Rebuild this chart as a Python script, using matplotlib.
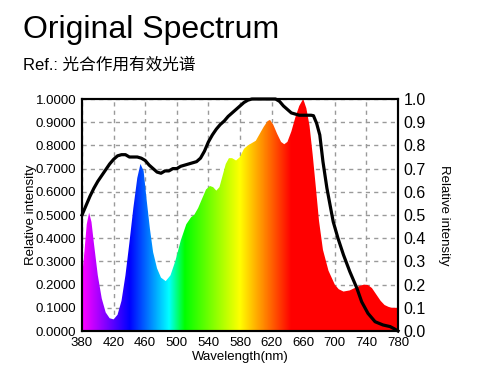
import numpy as np
import matplotlib
matplotlib.use("Agg")
from matplotlib import pyplot as plt
from matplotlib.patches import Polygon

plt.rcParams['font.family'] = ['Liberation Sans', 'Noto Sans CJK SC', 'DejaVu Sans']

# LED spectrum (left axis)
spec_wl = [380, 383, 386, 389, 392, 395, 400, 405, 410, 415, 420, 425, 430, 435, 440,
           445, 450, 454, 458, 462, 466, 470, 475, 480, 486, 492, 498, 505, 512, 518,
           522, 527, 532, 537, 542, 546, 550, 554, 558, 562, 566, 570, 575, 580, 585,
           590, 595, 600, 605, 610, 615, 618, 622, 627, 632, 636, 640, 645, 650, 655,
           660, 664, 668, 672, 676, 680, 685, 692, 700, 705, 711, 719, 725,
           732, 737, 742, 747, 753, 758, 763, 768, 772, 776, 780]
spec_val = [0.23, 0.34, 0.46, 0.51, 0.47, 0.38, 0.24, 0.14, 0.08, 0.055, 0.05, 0.07, 0.13, 0.24, 0.38,
            0.53, 0.66, 0.72, 0.69, 0.56, 0.44, 0.34, 0.27, 0.23, 0.215, 0.24, 0.30, 0.39, 0.46, 0.49,
            0.50, 0.53, 0.57, 0.61, 0.625, 0.62, 0.605, 0.62, 0.67, 0.72, 0.745, 0.745, 0.735, 0.75, 0.785,
            0.80, 0.81, 0.82, 0.85, 0.88, 0.905, 0.91, 0.89, 0.85, 0.815, 0.805, 0.815, 0.86, 0.92, 0.97,
            1.0, 0.96, 0.885, 0.76, 0.62, 0.475, 0.35, 0.26, 0.20, 0.18, 0.17, 0.175, 0.185,
            0.195, 0.2, 0.198, 0.185, 0.155, 0.13, 0.112, 0.104, 0.10, 0.10, 0.10]

# reference photosynthesis action spectrum (right axis)
par_wl = [380, 385, 390, 395, 400, 405, 410, 415, 420, 425, 430, 435, 440, 445, 450,
          455, 460, 465, 470, 475, 480, 485, 490, 495, 500, 505, 510, 515, 520, 525,
          530, 535, 540, 545, 550, 555, 560, 565, 570, 575, 580, 585, 590, 595, 600,
          605, 610, 615, 620, 625, 630, 635, 640, 645, 650, 655, 660, 665, 670, 673,
          677, 681, 685, 690, 694, 698, 704, 711, 719, 728, 734, 742, 751, 761, 770,
          775, 780]
par_val = [0.50, 0.54, 0.58, 0.615, 0.645, 0.67, 0.695, 0.72, 0.74, 0.755, 0.76, 0.76, 0.75, 0.75, 0.75,
           0.745, 0.735, 0.715, 0.70, 0.685, 0.68, 0.69, 0.69, 0.70, 0.70, 0.71, 0.715, 0.72, 0.725, 0.73,
           0.745, 0.775, 0.815, 0.845, 0.87, 0.89, 0.905, 0.925, 0.94, 0.955, 0.97, 0.985, 0.995, 1.0, 1.0,
           1.0, 1.0, 1.0, 1.0, 1.0, 0.99, 0.97, 0.955, 0.94, 0.935, 0.93, 0.93, 0.93, 0.93, 0.928,
           0.895, 0.845, 0.73, 0.616, 0.543, 0.471, 0.40, 0.328, 0.256, 0.184, 0.126, 0.076, 0.04, 0.026, 0.019,
           0.01, 0.0]

x_ticks = [380, 420, 460, 500, 540, 580, 620, 660, 700, 740, 780]


def wl_rgb(w):
    if w < 440:
        return (-(w - 440) / 60.0, 0.0, 1.0)
    if w < 490:
        return (0.0, (w - 440) / 50.0, 1.0)
    if w < 510:
        return (0.0, 1.0, -(w - 510) / 20.0)
    if w < 580:
        return ((w - 510) / 70.0, 1.0, 0.0)
    if w < 645:
        return (1.0, -(w - 645) / 65.0, 0.0)
    return (1.0, 0.0, 0.0)


fig = plt.figure(figsize=(4.8, 3.77), dpi=100)
ax = fig.add_axes([82 / 480, 46 / 377, 316 / 480, 232 / 377])

ax.set_xlim(380, 780)
ax.set_ylim(0, 1)
ax.set_xticks(x_ticks)
ax.set_yticks(np.arange(0, 1.01, 0.1))
ax.yaxis.set_major_formatter(plt.FormatStrFormatter('%.4f'))
ax.grid(True, color='#9a9a9a', linestyle=(0, (3, 3)), linewidth=1)
ax.set_axisbelow(True)
ax.tick_params(length=0, labelsize=9.5, pad=4)

# rainbow fill clipped to the spectrum shape
wl_grid = np.arange(380, 781)
img = np.array([[wl_rgb(w) for w in wl_grid]])
im = ax.imshow(img, extent=[380, 780, 0, 1], aspect='auto', origin='lower', zorder=2)
poly = Polygon(list(zip([380] + spec_wl + [780], [0] + spec_val + [0])),
               closed=True, facecolor='none', edgecolor='none', transform=ax.transData)
ax.add_patch(poly)
im.set_clip_path(poly)

ax2 = ax.twinx()
ax2.set_ylim(0, 1)
ax2.set_yticks(np.arange(0, 1.01, 0.1))
ax2.yaxis.set_major_formatter(plt.FormatStrFormatter('%.1f'))
ax2.tick_params(length=0, labelsize=11.5, pad=4)
ax2.plot(par_wl, par_val, color='black', linewidth=2.3, clip_on=False, zorder=5)

for a in (ax, ax2):
    for s in a.spines.values():
        s.set_linewidth(1.5)
        s.set_color('black')

ax.set_xlabel('Wavelength(nm)', fontsize=9.5, labelpad=2)
ax.set_ylabel('Relative intensity', fontsize=9.5)
ax.yaxis.set_label_coords(-0.142, 0.5)
ax2.set_ylabel('Relative intensity', fontsize=9.5, rotation=270)
ax2.yaxis.set_label_coords(1.165, 0.5)

fig.text(23 / 480, 1 - 38 / 377, 'Original Spectrum', fontsize=23, va='baseline', ha='left')
fig.text(23 / 480, 1 - 70 / 377, 'Ref.: 光合作用有效光谱', fontsize=12, va='baseline', ha='left')

fig.savefig('out.png', dpi=100)
